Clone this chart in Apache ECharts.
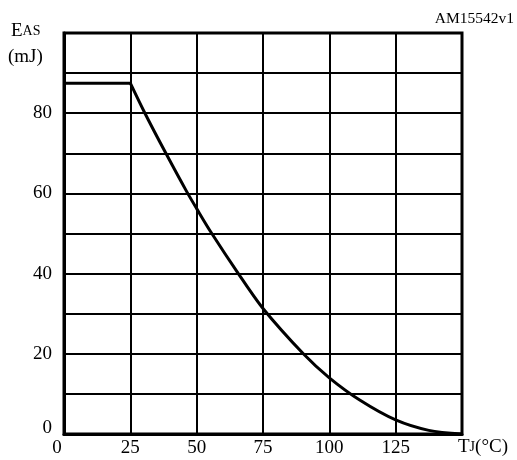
<!DOCTYPE html>
<html>
<head>
<meta charset="utf-8">
<script src="https://cdn.jsdelivr.net/npm/echarts@6/dist/echarts.min.js"></script>
<style>
  html, body { margin: 0; padding: 0; background: #fff; }
  #chart { width: 517px; height: 460px; }
</style>
</head>
<body>
<div id="chart"></div>
<script>
// values
const xTicks = [0, 25, 50, 75, 100, 125, 150]
const yTicks = [0, 20, 40, 60, 80]
const flatT = [0, 25]
const flatE = [87.5, 87.5]
const curveT = [25, 30.5, 38.4, 46.2, 50, 55.4, 65.7, 75, 90.2, 100, 111.6, 125, 137.5, 150]
const curveE = [87.5, 80, 70, 60.5, 56.2, 50.3, 40, 31.3, 20, 14, 8.4, 3.5, 0.9, 0]

const font = 'Liberation Serif'
const chart = echarts.init(document.getElementById('chart'))

chart.setOption({
  animation: false,
  grid: {
    left: 64, top: 33, right: 55, bottom: 26,
    show: true, borderColor: '#000', borderWidth: 3
  },
  xAxis: {
    type: 'value', min: 0, max: 150, interval: 25,
    axisLine: { lineStyle: { color: '#000', width: 3 } },
    axisTick: { show: false },
    splitLine: { show: true, lineStyle: { color: '#000', width: 2 } },
    axisLabel: {
      margin: 5, color: '#000', fontFamily: font, fontSize: 19,
      formatter: v => {
        if (v === 0) return '{z|0}'
        return (xTicks.includes(v) && v !== 150) ? String(v) : ''
      },
      rich: { z: { fontFamily: font, fontSize: 19, color: '#000', padding: [0, 14, 0, 0] } }
    }
  },
  yAxis: {
    type: 'value', min: 0, max: 100, interval: 10,
    axisLine: { lineStyle: { color: '#000', width: 3 } },
    axisTick: { show: false },
    splitLine: { show: true, lineStyle: { color: '#000', width: 2 } },
    axisLabel: {
      margin: 12, color: '#000', fontFamily: font, fontSize: 19,
      formatter: v => {
        if (v === 0) return '{z|0}'
        return yTicks.includes(v) ? String(v) : ''
      },
      rich: { z: { fontFamily: font, fontSize: 19, color: '#000', padding: [0, 0, 12, 0] } }
    }
  },
  graphic: [
    {
      type: 'text', left: 11, top: 22,
      style: {
        text: '{b|E}{s|AS}', fill: '#000',
        rich: {
          b: { fontFamily: font, fontSize: 19, fill: '#000' },
          s: { fontFamily: font, fontSize: 14, fill: '#000' }
        }
      }
    },
    { type: 'text', left: 8, top: 48, style: { text: '(mJ)', fill: '#000', font: '19px ' + font } },
    { type: 'text', right: 3, top: 11, style: { text: 'AM15542v1', fill: '#000', font: '15.5px ' + font } },
    {
      type: 'text', left: 458, top: 438,
      style: {
        text: '{b|T}{s|J}{b|(°C)}', fill: '#000',
        rich: {
          b: { fontFamily: font, fontSize: 19, fill: '#000' },
          s: { fontFamily: font, fontSize: 14, fill: '#000' }
        }
      }
    }
  ],
  series: [
    {
      type: 'line', symbol: 'none',
      lineStyle: { color: '#000', width: 3 },
      data: flatT.map((t, i) => [t, flatE[i]])
    },
    {
      type: 'line', symbol: 'none', smooth: 0.3,
      lineStyle: { color: '#000', width: 3 },
      data: curveT.map((t, i) => [t, curveE[i]])
    }
  ]
})
</script>
</body>
</html>
